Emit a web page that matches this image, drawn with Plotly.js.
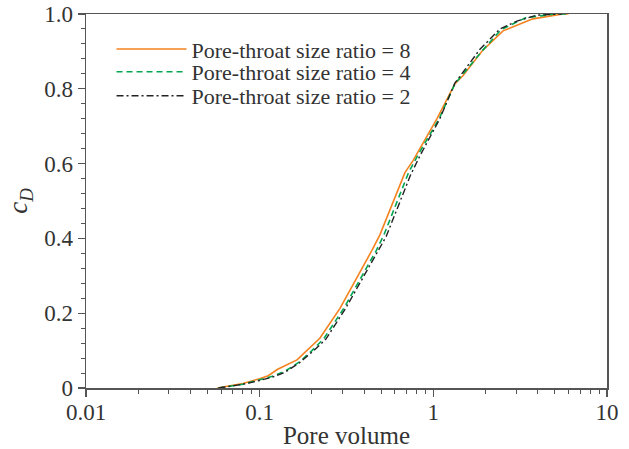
<!DOCTYPE html>
<html>
<head>
<meta charset="utf-8">
<script src="https://cdn.plot.ly/plotly-3.0.1.min.js"></script>
<style>html,body{margin:0;padding:0;background:#fff;}#chart{width:629px;height:449px;}</style>
</head>
<body>
<div id="chart"></div>
<script>
const seriesNames = ['Pore-throat size ratio = 8', 'Pore-throat size ratio = 4', 'Pore-throat size ratio = 2'];
// ratio 8 (orange, solid)
const x8 = [0.057, 0.08, 0.1, 0.112, 0.127, 0.164, 0.222, 0.29, 0.443, 0.493, 0.686, 0.764, 1.05, 1.33, 1.48, 1.91, 2.52, 3.74, 5.57, 6.0];
const y8 = [0, 0.012, 0.025, 0.033, 0.05, 0.075, 0.133, 0.213, 0.368, 0.41, 0.576, 0.608, 0.72, 0.813, 0.835, 0.901, 0.955, 0.987, 1.0, 1.0];
// ratio 4 (green, dashed)
const x4 = [0.058, 0.08, 0.1, 0.12, 0.14, 0.17, 0.2, 0.235, 0.305, 0.47, 0.52, 0.72, 0.82, 1.08, 1.33, 1.9, 2.45, 3.4, 5.0, 6.0];
const y4 = [0, 0.01, 0.022, 0.032, 0.045, 0.07, 0.1, 0.133, 0.213, 0.368, 0.41, 0.576, 0.625, 0.72, 0.813, 0.9, 0.958, 0.99, 1.0, 1.0];
// ratio 2 (black, dash-dot)
const x2 = [0.058, 0.08, 0.1, 0.12, 0.14, 0.17, 0.205, 0.24, 0.31, 0.48, 0.535, 0.74, 0.84, 1.09, 1.33, 1.85, 2.42, 3.03, 3.95, 5.5];
const y2 = [0, 0.01, 0.02, 0.03, 0.042, 0.068, 0.1, 0.13, 0.21, 0.365, 0.405, 0.57, 0.622, 0.72, 0.815, 0.905, 0.96, 0.981, 0.997, 1.0];
const xTickVals = [0.01, 0.1, 1, 10];
const xTickText = ['0.01', '0.1', '1', '10'];
const xMinorVals = [0.02,0.03,0.04,0.05,0.06,0.07,0.08,0.09,0.2,0.3,0.4,0.5,0.6,0.7,0.8,0.9,2,3,4,5,6,7,8,9];
const yTickVals = [0, 0.2, 0.4, 0.6, 0.8, 1.0];
const yTickText = ['0', '0.2', '0.4', '0.6', '0.8', '1.0'];

const axisColor = '#555';
const textColor = '#333';
const fontFam = '"Liberation Serif", "Times New Roman", serif';

const traces = [
  {x: x8, y: y8, name: seriesNames[0], mode: 'lines', legend: 'legend', line: {color: '#f5821f', width: 1.6}},
  {x: x4, y: y4, name: seriesNames[1], mode: 'lines', legend: 'legend2', line: {color: '#00a651', width: 1.6, dash: '6px,4px'}},
  {x: x2, y: y2, name: seriesNames[2], mode: 'lines', legend: 'legend3', line: {color: '#222', width: 1.4, dash: '7px,3px,2px,3px'}}
];

function legendAt(yFrac) {
  return {x: 0.049, y: yFrac, xanchor: 'left', yanchor: 'middle', bgcolor: 'rgba(0,0,0,0)',
          font: {family: fontFam, size: 22, color: textColor}, itemwidth: 70};
}

const layout = {
  width: 629, height: 449,
  margin: {l: 86, r: 22, t: 14, b: 61},
  paper_bgcolor: '#fff', plot_bgcolor: '#fff',
  font: {family: fontFam, size: 22, color: textColor},
  showlegend: true,
  legend: legendAt(0.906),
  legend2: legendAt(0.845),
  legend3: legendAt(0.781),
  xaxis: {
    type: 'log', range: [-2, 1],
    tickmode: 'array', tickvals: xTickVals, ticktext: xTickText,
    ticks: 'outside', ticklen: 7, tickwidth: 1.2, tickcolor: axisColor,
    ticklabelstandoff: -4,
    minor: {tickmode: 'array', tickvals: xMinorVals, ticks: 'outside', ticklen: 4, tickwidth: 1, tickcolor: axisColor, showgrid: false},
    showline: true, linecolor: axisColor, linewidth: 1.5, mirror: true,
    showgrid: false, zeroline: false,
    tickfont: {family: fontFam, size: 23, color: textColor},
    title: {text: 'Pore volume', font: {family: fontFam, size: 25, color: textColor}, standoff: 6}
  },
  yaxis: {
    range: [0, 1],
    tickmode: 'array', tickvals: yTickVals, ticktext: yTickText,
    ticks: 'outside', ticklen: 7, tickwidth: 1.2, tickcolor: axisColor,
    minor: {dtick: 0.04, ticks: 'outside', ticklen: 4, tickwidth: 1, tickcolor: axisColor, showgrid: false},
    showline: true, linecolor: axisColor, linewidth: 1.5, mirror: true,
    showgrid: false, zeroline: false,
    tickfont: {family: fontFam, size: 23, color: textColor},
    title: {text: '<i>c</i><sub><i>D</i></sub>', font: {family: fontFam, size: 27, color: textColor}, standoff: 8}
  }
};

Plotly.newPlot('chart', traces, layout, {displayModeBar: false, staticPlot: true});
</script>
</body>
</html>
